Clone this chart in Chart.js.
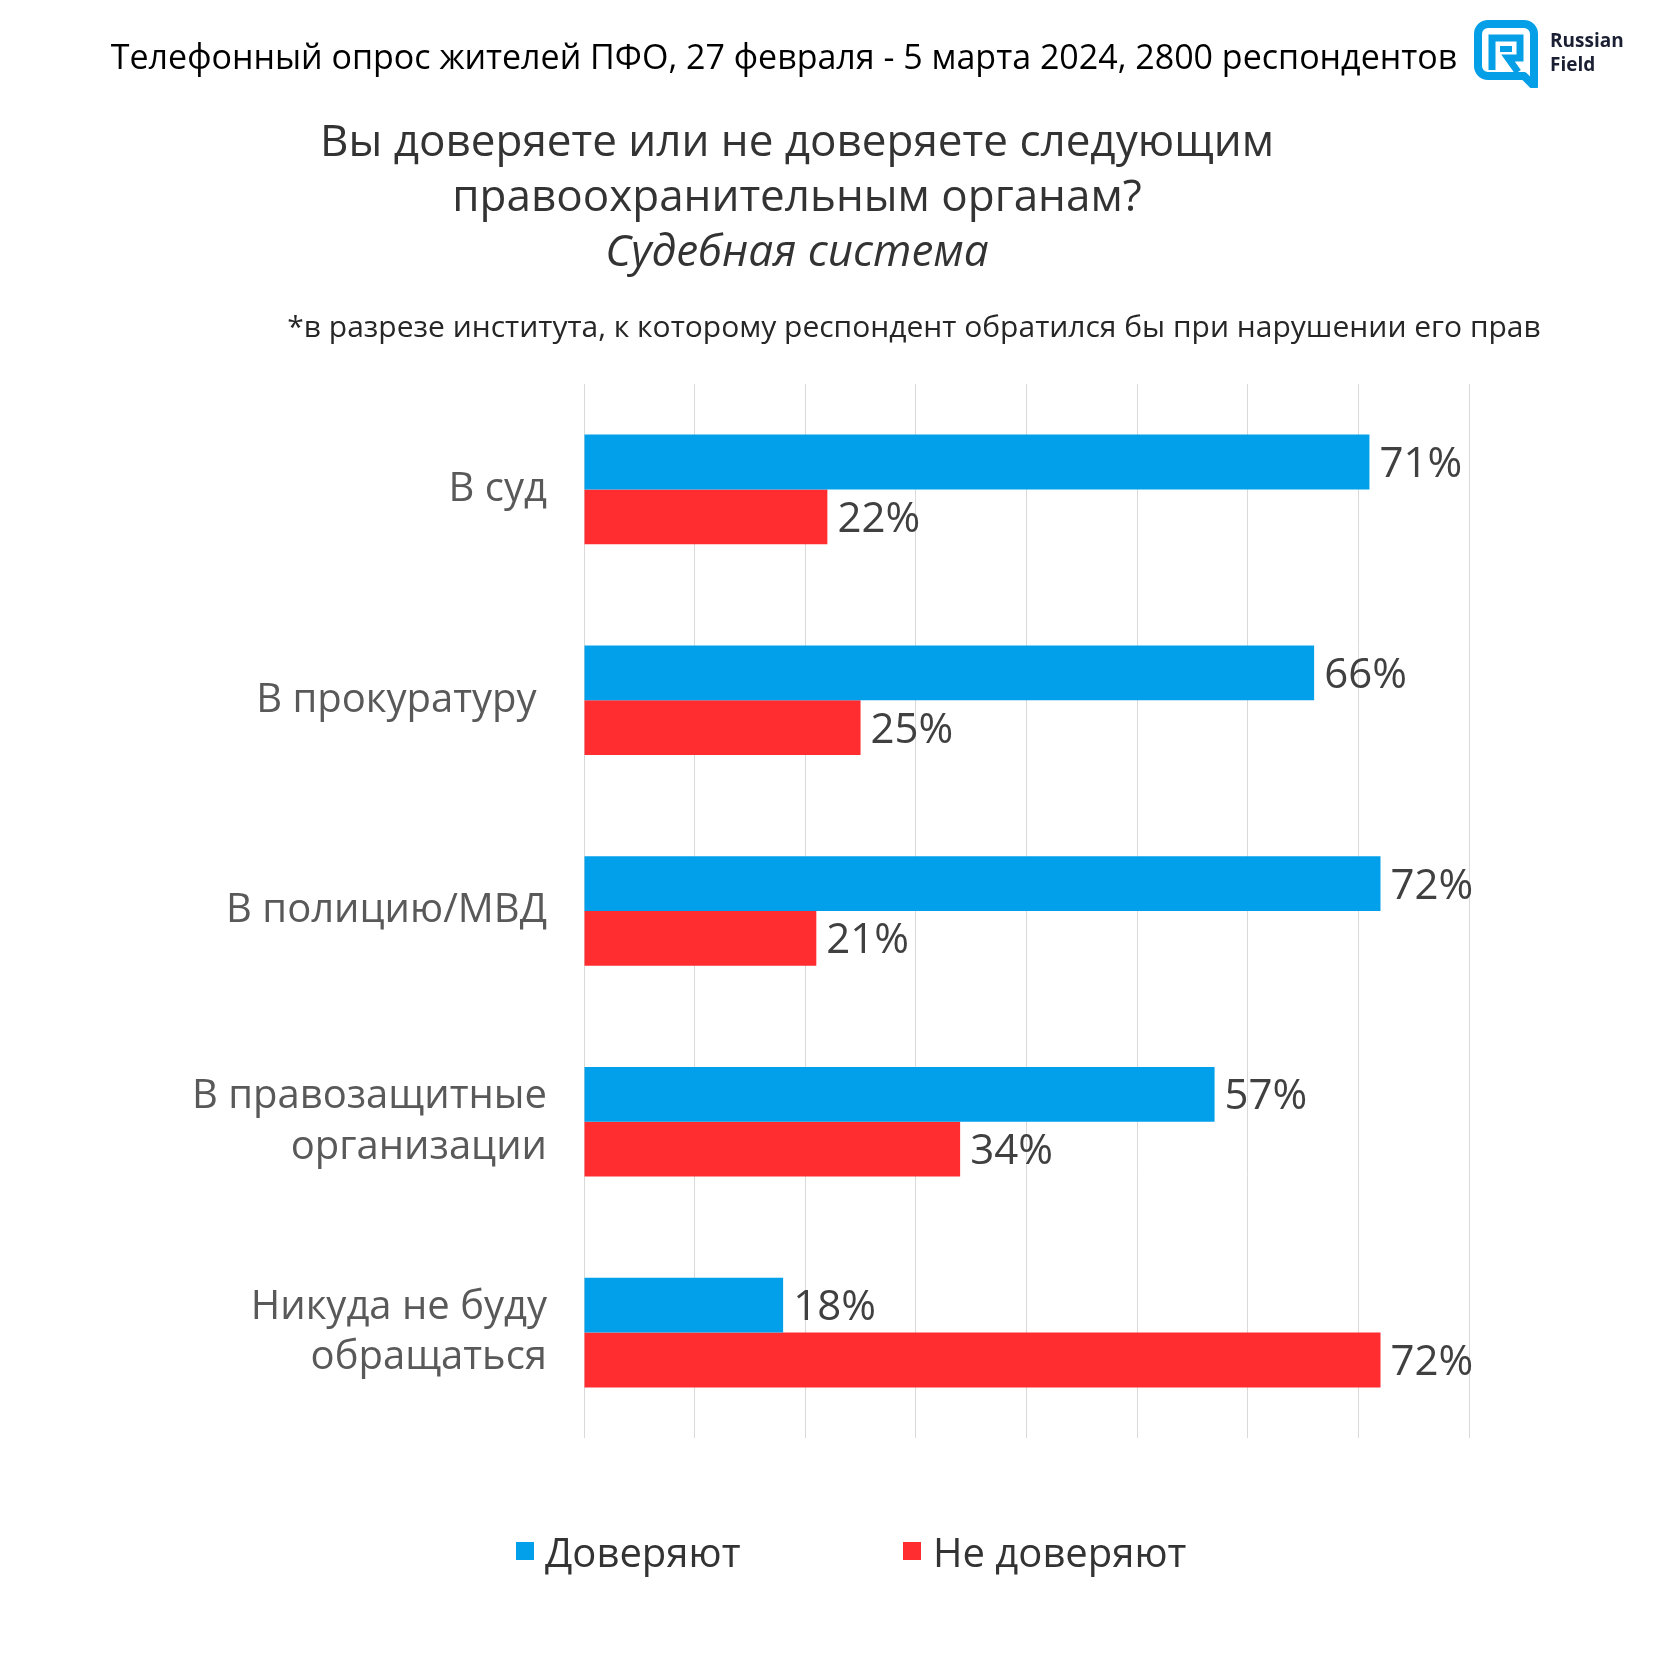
<!DOCTYPE html>
<html lang="ru">
<head>
<meta charset="utf-8">
<title>Судебная система</title>
<script src="https://cdn.jsdelivr.net/npm/chart.js@4.4.1/dist/chart.umd.min.js"></script>
<style>
  html, body { margin: 0; padding: 0; background: #fff; }
  #page { position: relative; width: 1680px; height: 1680px; overflow: hidden; font-family: "Open Sans", sans-serif; }
  #chart { position: absolute; left: 0; top: 0; }
  .txt { position: absolute; white-space: nowrap; transform: translate(-50%, -50%); }
  #header { left: 784px; top: 56px; font-size: 34px; color: #000; }
  #title { left: 797px; top: 194px; font-size: 44px; color: #333; text-align: center; line-height: 55px; }
  #title i { font-style: italic; }
  #note { left: 914px; top: 325px; font-size: 30px; color: #262626; }
  #logo { position: absolute; left: 1474px; top: 20px; }
  #logoText { position: absolute; left: 1550px; top: 28px; font-size: 19px; font-weight: bold; color: #1b1f33; line-height: 24px; }
  .leg { position: absolute; top: 1551px; transform: translateY(-50%); font-size: 40px; color: #333; white-space: nowrap; }
  .sw { position: absolute; width: 18px; height: 18px; top: 1542px; }
</style>
</head>
<body>
<div id="page">
  <canvas id="chart" width="1680" height="1680"></canvas>
  <div id="header" class="txt">Телефонный опрос жителей ПФО, 27 февраля - 5 марта 2024, 2800 респондентов</div>
  <div id="title" class="txt">Вы доверяете или не доверяете следующим<br>правоохранительным органам?<br><i>Судебная система</i></div>
  <div id="note" class="txt">*в разрезе института, к которому респондент обратился бы при нарушении его прав</div>
  <svg id="logo" width="64" height="68" viewBox="0 0 64 68">
    <path d="M14 4 H50 A10 10 0 0 1 60 14 V66 L50 56 H14 A10 10 0 0 1 4 46 V14 A10 10 0 0 1 14 4 Z" fill="none" stroke="#059fe8" stroke-width="8" stroke-linejoin="round"/>
    <path d="M18 50 V18 H46 V38 H34 L44 52" fill="none" stroke="#059fe8" stroke-width="7"/>
    <rect x="26" y="26" width="12" height="6" fill="#059fe8"/>
  </svg>
  <div id="logoText">Russian<br>Field</div>
  <div class="sw" id="sw0"></div>
  <div class="leg" id="leg0"></div>
  <div class="sw" id="sw1"></div>
  <div class="leg" id="leg1"></div>
</div>
<script>
// data
const categories = [
  ['В суд'],
  ['В прокуратуру '],
  ['В полицию/МВД'],
  ['В правозащитные', 'организации'],
  ['Никуда не буду', 'обращаться']
];
const trustValues = [71, 66, 72, 57, 18];
const distrustValues = [22, 25, 21, 34, 72];
const seriesNames = ['Доверяют', 'Не доверяют'];
const seriesColors = ['#02a0ea', '#ff2d30'];
const xMin = 0;
const xMax = 80;
const xStep = 10;

// legend in html
seriesNames.forEach((name, i) => {
  const sw = document.getElementById('sw' + i);
  const leg = document.getElementById('leg' + i);
  sw.style.background = seriesColors[i];
  sw.style.left = (i === 0 ? 516 : 903) + 'px';
  leg.style.left = (i === 0 ? 545 : 933) + 'px';
  leg.textContent = name;
});

// value labels at the end of bars
const valueLabels = {
  id: 'valueLabels',
  afterDatasetsDraw(chart) {
    const ctx = chart.ctx;
    ctx.save();
    ctx.font = '42px "Open Sans"';
    ctx.fillStyle = '#404040';
    ctx.textAlign = 'left';
    ctx.textBaseline = 'middle';
    chart.data.datasets.forEach((ds, i) => {
      const meta = chart.getDatasetMeta(i);
      meta.data.forEach((bar, j) => {
        ctx.fillText(ds.data[j] + '%', bar.x + 10, bar.y + 3);
      });
    });
    ctx.restore();
  }
};

new Chart(document.getElementById('chart'), {
  type: 'bar',
  data: {
    labels: categories,
    datasets: [
      { label: seriesNames[0], data: trustValues, backgroundColor: seriesColors[0] },
      { label: seriesNames[1], data: distrustValues, backgroundColor: seriesColors[1] }
    ]
  },
  options: {
    indexAxis: 'y',
    responsive: false,
    animation: false,
    barPercentage: 1,
    categoryPercentage: 0.52,
    layout: { padding: { top: 384, right: 211, bottom: 242, left: 0 } },
    plugins: {
      legend: { display: false },
      tooltip: { enabled: false }
    },
    scales: {
      x: {
        min: xMin,
        max: xMax,
        ticks: { display: false, stepSize: xStep },
        grid: { color: '#d9d9d9', lineWidth: 1, drawTicks: false },
        border: { display: false }
      },
      y: {
        grid: { display: false },
        border: { display: false },
        ticks: {
          color: '#595959',
          padding: 29,
          font: { family: '"Open Sans"', size: 40, lineHeight: 1.27 }
        },
        afterFit(scale) { scale.width = 584; }
      }
    }
  },
  plugins: [valueLabels]
});
</script>
</body>
</html>
